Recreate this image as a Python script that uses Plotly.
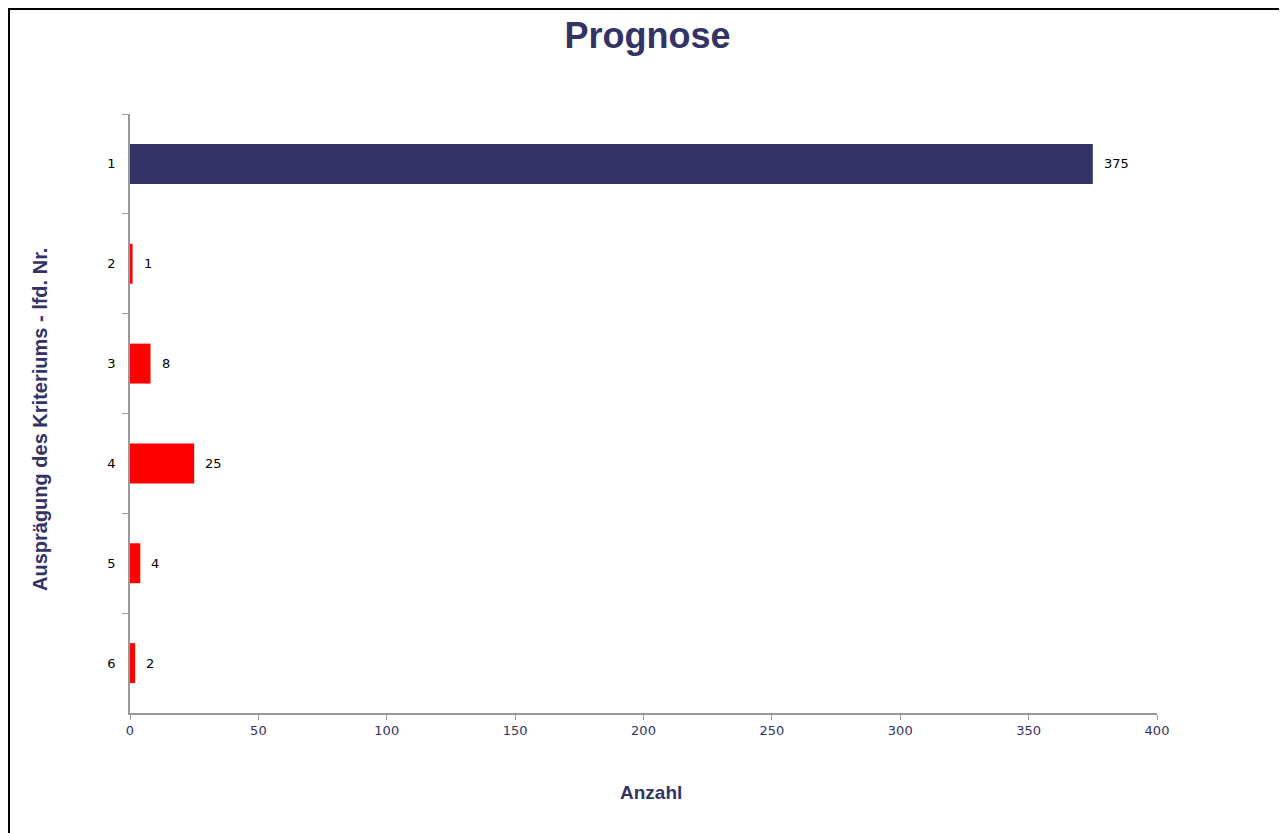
import plotly.graph_objects as go

categories = ["1", "2", "3", "4", "5", "6"]
values = [375, 1, 8, 25, 4, 2]
x_ticks = [0, 50, 100, 150, 200, 250, 300, 350, 400]

NAVY = "#333366"
RED = "#FF0000"
colors = [NAVY] + [RED] * (len(values) - 1)

fig = go.Figure()
fig.add_trace(go.Bar(
    x=values, y=categories, orientation="h",
    marker=dict(color=colors, line=dict(width=0)),
    width=0.4, hoverinfo="x+y", showlegend=False,
))

# page has an 8px body margin; figure coordinates = page coordinates - 8
OFF = 8
L, R, T, B = 130 - OFF, 1157 - OFF, 114 - OFF, 713 - OFF
W, H = 1287 - OFF, 833 - OFF
pw, ph = R - L, B - T

def px(xp):
    return (xp - OFF - L) / pw

def py(yp):
    return (B - (yp - OFF)) / ph

annotations = []
for i, v in enumerate(values):
    annotations.append(dict(
        x=v, y=i, xref="x", yref="y", text=str(v), showarrow=False,
        xanchor="left", xshift=9, font=dict(family="DejaVu Sans", size=13, color="#000000"),
    ))

annotations.append(dict(
    x=px(651), y=py(792), xref="paper", yref="paper", text="<b>Anzahl</b>", showarrow=False,
    xanchor="center", yanchor="middle",
    font=dict(family="Liberation Sans", size=19, color=NAVY),
))
annotations.append(dict(
    x=px(40), y=py(420), xref="paper", yref="paper",
    text="<b>Ausprägung des Kriteriums - lfd. Nr.</b>", showarrow=False, textangle=-90,
    xanchor="center", yanchor="middle",
    font=dict(family="Liberation Sans", size=20, color=NAVY),
))

fig.update_layout(
    width=W, height=H,
    margin=dict(l=L, r=W - R, t=T, b=H - B),
    paper_bgcolor="white", plot_bgcolor="white",
    title=dict(text="<b>Prognose</b>", x=0.5, xanchor="center", y=1 - (35 - OFF) / H, yanchor="middle",
               font=dict(family="Liberation Sans", size=36, color=NAVY)),
    annotations=annotations,
    shapes=[
        dict(type="line", xref="paper", yref="paper", x0=px(OFF), x1=px(W + 20), y0=py(OFF + 1), y1=py(OFF + 1),
             line=dict(color="black", width=2)),
        dict(type="line", xref="paper", yref="paper", x0=px(OFF + 1), x1=px(OFF + 1), y0=py(OFF), y1=py(H + 20),
             line=dict(color="black", width=2)),
    ],
    xaxis=dict(
        range=[0, 400], tickvals=x_ticks, ticks="outside", ticklen=5, tickcolor="#999999",
        showline=True, linecolor="#999999", linewidth=1.5, showgrid=False, zeroline=False,
        tickfont=dict(family="DejaVu Sans", size=13, color=NAVY),
    ),
    yaxis=dict(
        type="category", categoryorder="array", categoryarray=categories,
        range=[len(categories) - 0.5, -0.5],
        tickson="boundaries", ticks="outside", ticklen=6, tickcolor="#999999",
        ticklabelstandoff=10,
        showline=True, linecolor="#999999", linewidth=1.5, showgrid=False, zeroline=False,
        tickfont=dict(family="DejaVu Sans", size=13, color="#000000"),
    ),
)

fig.write_html("out.html")
